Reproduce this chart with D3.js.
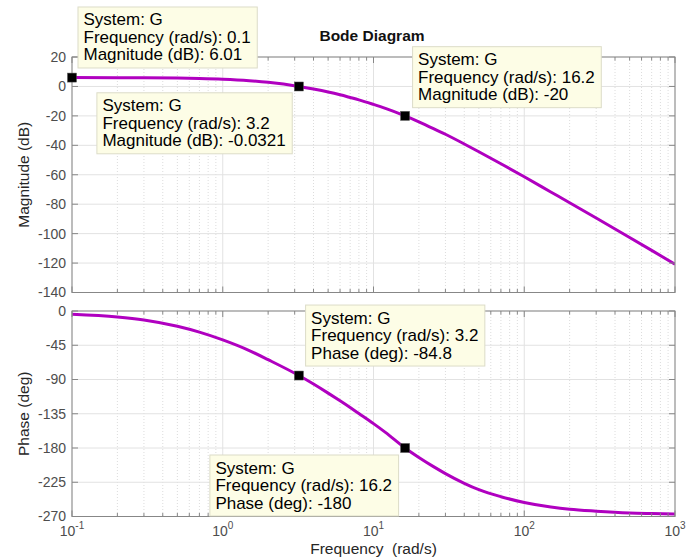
<!DOCTYPE html>
<html><head><meta charset="utf-8">
<script src="https://cdn.jsdelivr.net/npm/d3@7"></script>
<style>
body{margin:0;background:#fff}
svg{display:block}
text{font-family:"Liberation Sans", Arial, Helvetica, sans-serif}
</style>
</head><body>
<svg id="chart" width="700" height="560"></svg>
<script>
// ---- data ----
const freqs    = [0.1, 0.2, 0.3, 0.5, 0.7, 1, 1.5, 2, 3.2, 4, 5, 6, 7, 8, 10, 12, 16.2, 20, 25, 30, 40, 50, 70, 100, 150, 200, 300, 500, 700, 1000];
const magDb    = [6.01, 5.96, 5.89, 5.68, 5.42, 4.94, 3.93, 2.8, -0.0321, -1.8, -3.8, -5.7, -7.5, -9.1, -12.2, -14.9, -20, -24, -28.6, -32.5, -39.1, -44.4, -52.5, -61.4, -71.7, -79, -89.4, -102.6, -111.4, -120.8];
const phaseDeg = [-4.3, -7.8, -11.8, -20.1, -27.8, -38, -52, -64, -84.8, -96, -107.9, -118, -126.8, -134.7, -148, -159.5, -180, -192.5, -204.5, -213.6, -226.4, -234.8, -244, -251.5, -257.5, -260.5, -263, -265.3, -266.1, -266.8];
const magTicks = [20, 0, -20, -40, -60, -80, -100, -120, -140];
const phaseTicks = [0, -45, -90, -135, -180, -225, -270];
const freqDecades = [0.1, 1, 10, 100, 1000];
const decadeExponents = ["-1", "0", "1", "2", "3"];
const tipSystem = ["G", "G", "G", "G", "G"];
const tipPanel  = ["mag", "mag", "mag", "phase", "phase"];
const tipFreq   = [0.1, 3.2, 16.2, 3.2, 16.2];
const tipValue  = ["6.01", "-0.0321", "-20", "-84.8", "-180"];

// ---- layout ----
const svg = d3.select("#chart");
const X0 = 72, X1 = 675;
const x = d3.scaleLog().domain([0.1, 1000]).range([X0, X1]);
const yMag = d3.scaleLinear().domain([-140, 20]).range([292.5, 57]);
const yPh  = d3.scaleLinear().domain([-270, 0]).range([516.5, 311]);

const minorFreqs = [];
freqDecades.slice(0, -1).forEach(d => { for (let k = 2; k <= 9; k++) minorFreqs.push(d * k); });

const frameColor = "#878787", tickLabelColor = "#4d4d4d";
const curveColor = "#b000c0";

function panel(y, ticks, values, id) {
  const [yb, yt] = y.range();
  const g = svg.append("g");
  g.selectAll(".mg").data(minorFreqs).join("line")
    .attr("x1", d => x(d)).attr("x2", d => x(d)).attr("y1", yt).attr("y2", yb)
    .attr("stroke", "#dcdcdc").attr("stroke-width", 1).attr("stroke-dasharray", "1,2");
  g.selectAll(".vg").data(freqDecades).join("line")
    .attr("x1", d => x(d)).attr("x2", d => x(d)).attr("y1", yt).attr("y2", yb)
    .attr("stroke", "#e2e2e2").attr("stroke-width", 1);
  g.selectAll(".hg").data(ticks).join("line")
    .attr("x1", X0).attr("x2", X1).attr("y1", d => y(d)).attr("y2", d => y(d))
    .attr("stroke", "#e2e2e2").attr("stroke-width", 1);
  svg.append("clipPath").attr("id", id).append("rect")
    .attr("x", X0).attr("y", yt).attr("width", X1 - X0).attr("height", yb - yt);
  const line = d3.line().x((d, i) => x(freqs[i])).y(d => y(d)).curve(d3.curveMonotoneX);
  g.append("path").datum(values).attr("d", line)
    .attr("fill", "none").attr("stroke", curveColor).attr("stroke-width", 3)
    .attr("stroke-linejoin", "round")
    .attr("clip-path", `url(#${id})`);
  g.append("rect").attr("x", X0).attr("y", yt).attr("width", X1 - X0).attr("height", yb - yt)
    .attr("fill", "none").attr("stroke", frameColor).attr("stroke-width", 1);
  const tk = g.append("g").attr("stroke", frameColor).attr("stroke-width", 1);
  freqDecades.forEach(d => {
    tk.append("line").attr("x1", x(d)).attr("x2", x(d)).attr("y1", yb).attr("y2", yb - 6);
    tk.append("line").attr("x1", x(d)).attr("x2", x(d)).attr("y1", yt).attr("y2", yt + 6);
  });
  minorFreqs.forEach(d => {
    tk.append("line").attr("x1", x(d)).attr("x2", x(d)).attr("y1", yb).attr("y2", yb - 3.5);
    tk.append("line").attr("x1", x(d)).attr("x2", x(d)).attr("y1", yt).attr("y2", yt + 3.5);
  });
  ticks.forEach(t => {
    tk.append("line").attr("x1", X0).attr("x2", X0 + 6).attr("y1", y(t)).attr("y2", y(t));
    tk.append("line").attr("x1", X1).attr("x2", X1 - 6).attr("y1", y(t)).attr("y2", y(t));
  });
  g.selectAll(".yl").data(ticks).join("text")
    .attr("x", 66).attr("y", d => y(d)).attr("dy", "0.35em")
    .attr("text-anchor", "end").attr("font-size", 14).attr("fill", tickLabelColor)
    .text(d => d);
}

panel(yMag, magTicks, magDb, "clipMag");
panel(yPh, phaseTicks, phaseDeg, "clipPh");

// x tick labels (10^n)
freqDecades.forEach((d, i) => {
  const t = svg.append("text").attr("x", x(d)).attr("y", 535.5)
    .attr("text-anchor", "middle").attr("font-size", 14).attr("fill", tickLabelColor);
  t.append("tspan").text("10");
  t.append("tspan").attr("dy", -6.5).attr("font-size", 10).text(decadeExponents[i]);
});

// titles / axis labels
svg.append("text").attr("x", 372).attr("y", 41).attr("text-anchor", "middle")
  .attr("font-size", 15.5).attr("font-weight", "bold").attr("fill", "#111").text("Bode Diagram");
svg.append("text").attr("x", 373.5).attr("y", 553.5).attr("text-anchor", "middle")
  .attr("font-size", 15.5).attr("fill", "#262626").style("white-space", "pre")
  .text("Frequency  (rad/s)");
svg.append("text").attr("transform", `translate(29,${(57 + 292.5) / 2}) rotate(-90)`)
  .attr("text-anchor", "middle").attr("font-size", 15.5).attr("fill", "#262626").text("Magnitude (dB)");
svg.append("text").attr("transform", `translate(29,${(311 + 516.5) / 2}) rotate(-90)`)
  .attr("text-anchor", "middle").attr("font-size", 15.5).attr("fill", "#262626").text("Phase (deg)");

// data tips
const tipOffsets = [[6, -70.6], [-202, 6.3], [7.5, -69.2], [6.7, -70.5], [-195.2, 7]];
const tipsG = svg.append("g");
tipFreq.forEach((f, i) => {
  const y = tipPanel[i] === "mag" ? yMag : yPh;
  const px = x(f), py = y(+tipValue[i]);
  const lines = [
    `System: ${tipSystem[i]}`,
    `Frequency (rad/s): ${f}`,
    (tipPanel[i] === "mag" ? "Magnitude (dB): " : "Phase (deg): ") + tipValue[i]
  ];
  const bx = px + tipOffsets[i][0], by = py + tipOffsets[i][1];
  const g = tipsG.append("g");
  const rect = g.append("rect").attr("x", bx).attr("y", by).attr("height", 61)
    .attr("fill", "#fdfde6").attr("stroke", "#dcdcc8").attr("stroke-width", 1);
  const txt = g.append("text").attr("font-size", 17).attr("fill", "#000");
  lines.forEach((l, j) => {
    txt.append("tspan").attr("x", bx + 5.5).attr("y", by + 18.5 + j * 17.5).text(l);
  });
  rect.attr("width", txt.node().getBBox().width + 12);
});
tipFreq.forEach((f, i) => {
  const y = tipPanel[i] === "mag" ? yMag : yPh;
  const px = x(f), py = y(+tipValue[i]);
  tipsG.append("rect").attr("x", px - 4.5).attr("y", py - 4.5).attr("width", 9).attr("height", 9)
    .attr("fill", "#000").attr("stroke", "#555").attr("stroke-width", 0.5);
});
</script>
</body></html>
